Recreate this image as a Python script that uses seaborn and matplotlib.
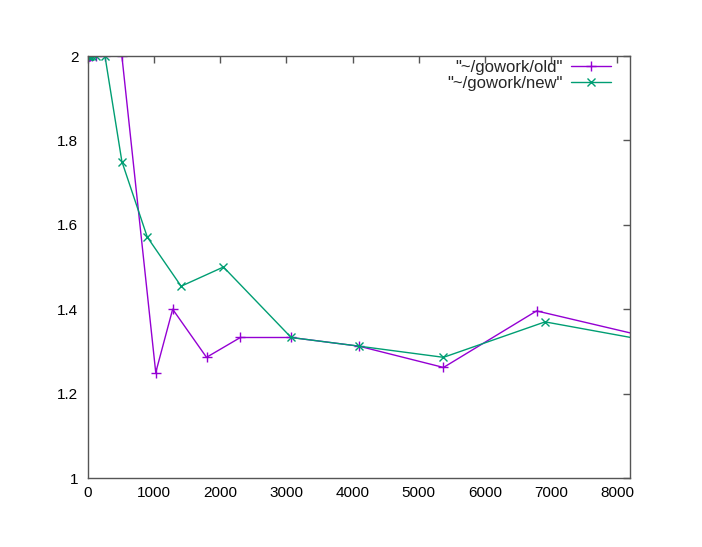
import matplotlib
matplotlib.use("Agg")
import matplotlib.pyplot as plt
import matplotlib.ticker as mticker
import pandas as pd
import seaborn as sns

# capacity (x) and growth factor (y)
old_cap = [1, 2, 4, 8, 16, 32, 64, 128, 256, 512, 1024, 1280, 1792, 2304, 3072, 4096, 5376, 6784, 9472]
old_factor = [2, 2, 2, 2, 2, 2, 2, 2, 2, 2, 1.25, 1.4, 1.286, 1.333, 1.333, 1.3125, 1.262, 1.396, 1.297]

new_cap = [1, 2, 4, 8, 16, 32, 64, 128, 256, 512, 896, 1408, 2048, 3072, 4096, 5376, 6912, 9472]
new_factor = [2, 2, 2, 2, 2, 2, 2, 2, 2, 1.75, 1.571, 1.4545, 1.5, 1.333, 1.3125, 1.286, 1.370, 1.297]

old_label = '"~/gowork/old"'
new_label = '"~/gowork/new"'

x_ticks = [0, 1000, 2000, 3000, 4000, 5000, 6000, 7000, 8000]
y_ticks = [1, 1.2, 1.4, 1.6, 1.8, 2]

sns.set_style("white")
plt.rcParams["font.family"] = ["Liberation Sans", "DejaVu Sans"]

df = pd.concat([
    pd.DataFrame({"cap": old_cap, "factor": old_factor, "series": old_label}),
    pd.DataFrame({"cap": new_cap, "factor": new_factor, "series": new_label}),
], ignore_index=True)

fig = plt.figure(figsize=(7.02, 5.47), dpi=100)
ax = fig.add_axes([0.1254, 0.1261, 0.7716, 0.7715])

sns.lineplot(data=df[df["series"] == old_label], x="cap", y="factor", ax=ax,
             color="#9400D3", marker="+", markersize=7, markeredgewidth=1,
             markeredgecolor="#9400D3", linewidth=1, label=old_label, sort=False)
sns.lineplot(data=df[df["series"] == new_label], x="cap", y="factor", ax=ax,
             color="#009E73", marker="x", markersize=5.5, markeredgewidth=1,
             markeredgecolor="#009E73", linewidth=1, label=new_label, sort=False)

ax.set_xlim(0, 8192)
ax.set_ylim(1, 2)
ax.set_xticks(x_ticks)
ax.set_yticks(y_ticks)
ax.yaxis.set_major_formatter(mticker.FuncFormatter(lambda v, p: f"{v:g}"))
ax.set_xlabel("")
ax.set_ylabel("")

for s in ax.spines.values():
    s.set_color("#555555")
    s.set_linewidth(1)
ax.tick_params(direction="in", length=5, width=1, color="#555555",
               top=True, right=True, labelsize=11, labelcolor="black")
ax.tick_params(axis="y", pad=7)
ax.tick_params(axis="x", pad=6)

ax.legend(loc="upper right", frameon=False, markerfirst=False, handlelength=2.4,
          fontsize=12, borderpad=0, borderaxespad=0, labelspacing=0.05,
          handletextpad=0.5, bbox_to_anchor=(0.965, 0.99))

fig.savefig("out.png", dpi=100)
